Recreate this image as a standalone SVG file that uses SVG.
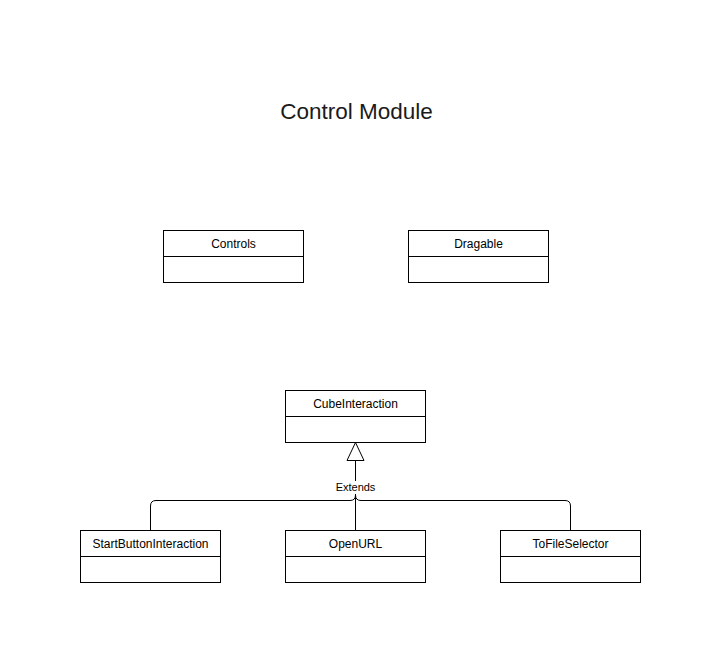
<svg xmlns="http://www.w3.org/2000/svg" width="721" height="663" viewBox="0 0 721 663">
<style>
.box{fill:#ffffff;stroke:#000000;stroke-width:1}
.div{fill:none;stroke:#000000;stroke-width:1}
.lbl{font-family:"Liberation Sans",Arial,sans-serif;font-size:12px;fill:#000000;text-anchor:middle}
.edge{fill:none;stroke:#000000;stroke-width:1}
</style>
<rect x="0" y="0" width="721" height="663" fill="#ffffff"/>
<text x="356.5" y="119" font-family="Liberation Sans, Arial, sans-serif" font-size="22.5" text-anchor="middle" fill="#1a1a1a">Control Module</text>
<g id="controls">
<rect class="box" x="163.5" y="230.5" width="140" height="52"/>
<line class="div" x1="163.5" y1="256.5" x2="303.5" y2="256.5"/>
<text class="lbl" x="233.5" y="248">Controls</text>
</g>
<g id="dragable">
<rect class="box" x="408.5" y="230.5" width="140" height="52"/>
<line class="div" x1="408.5" y1="256.5" x2="548.5" y2="256.5"/>
<text class="lbl" x="478.5" y="248">Dragable</text>
</g>
<g id="cubeinteraction">
<rect class="box" x="285.5" y="390.5" width="140" height="52"/>
<line class="div" x1="285.5" y1="416.5" x2="425.5" y2="416.5"/>
<text class="lbl" x="355.5" y="408">CubeInteraction</text>
</g>
<g id="startbuttoninteraction">
<rect class="box" x="80.5" y="530.5" width="140" height="52"/>
<line class="div" x1="80.5" y1="556.5" x2="220.5" y2="556.5"/>
<text class="lbl" x="150.5" y="548">StartButtonInteraction</text>
</g>
<g id="openurl">
<rect class="box" x="285.5" y="530.5" width="140" height="52"/>
<line class="div" x1="285.5" y1="556.5" x2="425.5" y2="556.5"/>
<text class="lbl" x="355.5" y="548">OpenURL</text>
</g>
<g id="tofileselector">
<rect class="box" x="500.5" y="530.5" width="140" height="52"/>
<line class="div" x1="500.5" y1="556.5" x2="640.5" y2="556.5"/>
<text class="lbl" x="570.5" y="548">ToFileSelector</text>
</g>
<g id="connectors">
<path class="edge" d="M150.5 530.5 V506 Q150.5 500.5 156 500.5 H350 Q355.5 500.5 355.5 495 V460.5"/>
<path class="edge" d="M570.5 530.5 V506 Q570.5 500.5 565 500.5 H361 Q355.5 500.5 355.5 495"/>
<path class="edge" d="M355.5 530.5 V495"/>
<path class="edge" d="M355.5 442.5 L364 460.5 H347 Z" fill="#ffffff"/>
<rect x="334" y="481" width="43" height="13" fill="#ffffff"/>
<text x="355.5" y="491" font-family="Liberation Sans, Arial, sans-serif" font-size="11px" text-anchor="middle" fill="#000000">Extends</text>
</g>
</svg>
